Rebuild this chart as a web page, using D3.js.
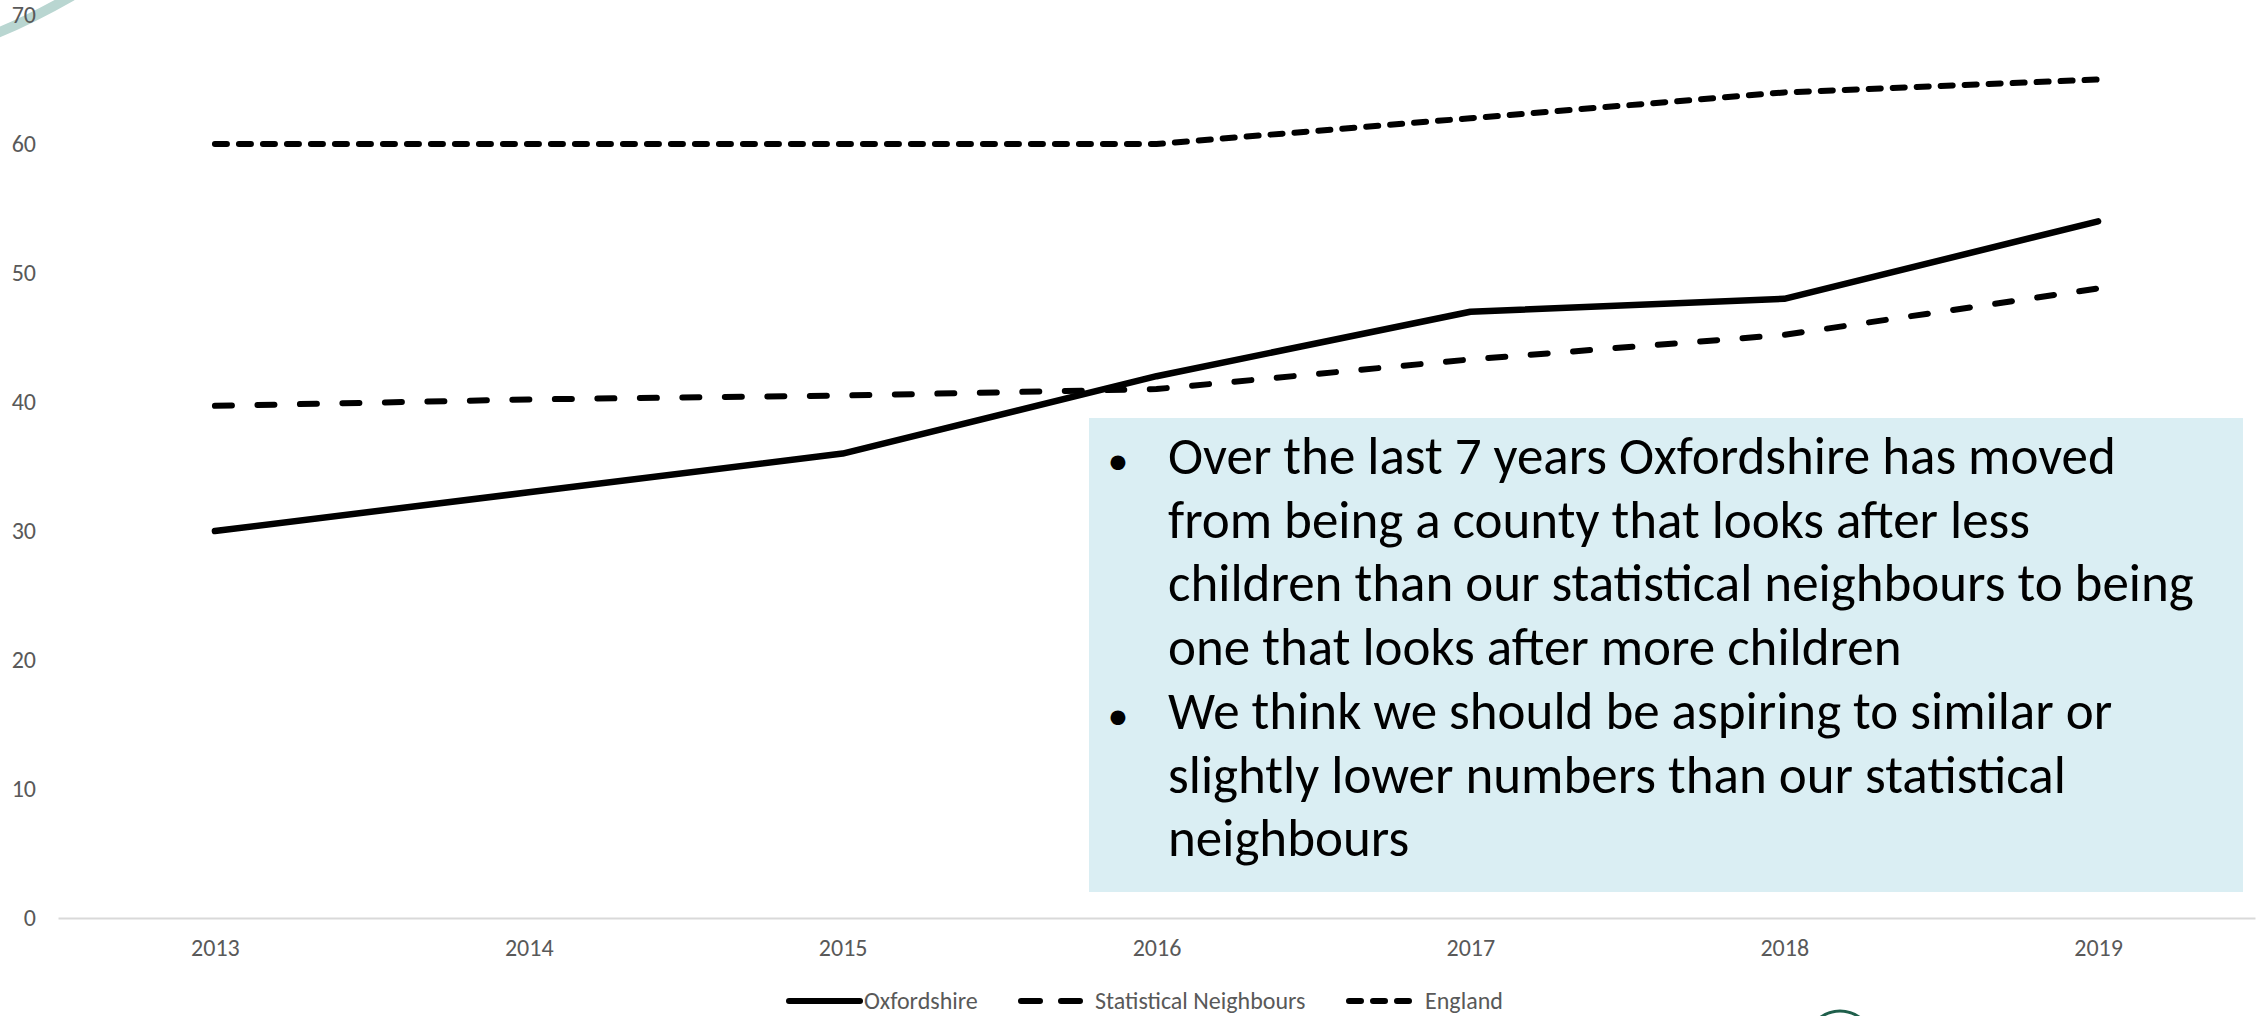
<!DOCTYPE html>
<html lang="en">
<head>
    <meta charset="UTF-8">
    <title>Children looked after per 10,000</title>
    <script src="https://d3js.org/d3.v7.min.js"></script>
    <style>
        body {
            margin: 0;
            padding: 0;
            background-color: #fff;
            overflow: hidden;
        }
        svg text {
            font-family: Calibri, Carlito, Lato, "Open Sans", sans-serif;
        }
    </style>
</head>
<body>
    <div id="chart"></div>

    <script>
        // Data
        const years = ["2013", "2014", "2015", "2016", "2017", "2018", "2019"];
        const oxfordshire = [30, 33, 36, 42, 47, 48, 54];
        const statNeighbours = [39.7, 40.2, 40.5, 41, 43.3, 45.2, 48.8];
        const england = [60, 60, 60, 60, 62, 64, 65];
        const yTicks = [0, 10, 20, 30, 40, 50, 60, 70];
        const seriesNames = ["Oxfordshire", "Statistical Neighbours", "England"];
        const bullets = [
            ["Over the last 7 years Oxfordshire has moved",
             "from being a county that looks after less",
             "children than our statistical neighbours to being",
             "one that looks after more children"],
            ["We think we should be aspiring to similar or",
             "slightly lower numbers than our statistical",
             "neighbours"]
        ];

        const W = 2259, H = 1016;
        const plot = { left: 58, right: 2255, top: 15, bottom: 918 };
        const labelSize = "24px";

        const svg = d3.select("#chart").append("svg")
            .attr("width", W)
            .attr("height", H);

        // logo fragments in the corners
        svg.append("path")
            .attr("d", "M-5,34 Q30,20 72,-4")
            .attr("fill", "none")
            .attr("stroke", "#b9d6d1")
            .attr("stroke-width", 10);
        svg.append("circle")
            .attr("cx", 1840).attr("cy", 1044).attr("r", 33)
            .attr("fill", "none")
            .attr("stroke", "#1f5f4b")
            .attr("stroke-width", 3);

        const x = d3.scalePoint().domain(years)
            .range([plot.left, plot.right]).padding(0.5);
        const y = d3.scaleLinear().domain([0, 70])
            .range([plot.bottom, plot.top]);

        // y labels
        const yAxis = svg.append("g")
            .attr("transform", "translate(36,0)")
            .call(d3.axisLeft(y).tickValues(yTicks).tickSize(0).tickPadding(0));
        yAxis.select(".domain").remove();
        yAxis.selectAll("text")
            .attr("fill", "#595959")
            .style("font-size", labelSize);

        // x axis
        const xAxis = svg.append("g")
            .attr("transform", `translate(0,${plot.bottom})`)
            .call(d3.axisBottom(x).tickSize(0).tickPadding(21));
        xAxis.select(".domain")
            .attr("stroke", "#d9d9d9")
            .attr("stroke-width", 2);
        xAxis.selectAll("text")
            .attr("fill", "#595959")
            .style("font-size", labelSize);

        // text box
        const box = svg.append("g");
        box.append("rect")
            .attr("x", 1089).attr("y", 418)
            .attr("width", 1154).attr("height", 474)
            .attr("fill", "#daeef3");

        const lines = [];
        bullets.forEach(b => b.forEach((t, i) => lines.push({ t, first: i === 0 })));
        let fontSize = 53;
        const txt = box.selectAll("text.line").data(lines).join("text")
            .attr("class", "line")
            .attr("x", 1168)
            .attr("y", (d, i) => 474 + i * 63.7)
            .attr("fill", "#000")
            .style("font-size", fontSize + "px")
            .text(d => d.t);
        // shrink the font if the fallback face runs wider than the box text
        const widest = d3.max(txt.nodes(), n => n.getComputedTextLength());
        if (widest > 1040) {
            fontSize = fontSize * 1040 / widest;
            txt.style("font-size", fontSize + "px");
        }
        box.selectAll("text.bullet").data(lines.map((d, i) => ({ ...d, i })).filter(d => d.first))
            .join("text")
            .attr("class", "bullet")
            .attr("x", 1118)
            .attr("y", d => 474 + d.i * 63.7)
            .attr("text-anchor", "middle")
            .style("font-size", "42px")
            .text("•");

        // lines
        const series = [
            { name: seriesNames[0], values: oxfordshire, dash: null, width: 6.5 },
            { name: seriesNames[1], values: statNeighbours, dash: "17,25.5", width: 6 },
            { name: seriesNames[2], values: england, dash: "12,12", width: 6 }
        ];

        const line = d3.line()
            .x((d, i) => x(years[i]))
            .y(d => y(d));

        svg.selectAll("path.series").data(series).join("path")
            .attr("class", "series")
            .attr("d", d => line(d.values))
            .attr("fill", "none")
            .attr("stroke", "#000")
            .attr("stroke-width", d => d.width)
            .attr("stroke-linecap", "round")
            .attr("stroke-linejoin", "round")
            .attr("stroke-dasharray", d => d.dash);

        // legend
        const legendY = 1001;
        const legendPos = [
            { x1: 789, x2: 860, tx: 864 },
            { x1: 1021, x2: 1088, tx: 1095 },
            { x1: 1349, x2: 1412, tx: 1425 }
        ];
        const legend = svg.selectAll("g.legend").data(series).join("g")
            .attr("class", "legend");
        legend.append("line")
            .attr("x1", (d, i) => legendPos[i].x1)
            .attr("x2", (d, i) => legendPos[i].x2)
            .attr("y1", legendY).attr("y2", legendY)
            .attr("stroke", "#000")
            .attr("stroke-width", 6)
            .attr("stroke-linecap", "round")
            .attr("stroke-dasharray", (d, i) => i === 0 ? null : (i === 1 ? "19,21" : "12,12"));
        legend.append("text")
            .attr("x", (d, i) => legendPos[i].tx)
            .attr("y", legendY)
            .attr("dy", "0.35em")
            .attr("fill", "#595959")
            .style("font-size", labelSize)
            .text(d => d.name);
    </script>
</body>
</html>
